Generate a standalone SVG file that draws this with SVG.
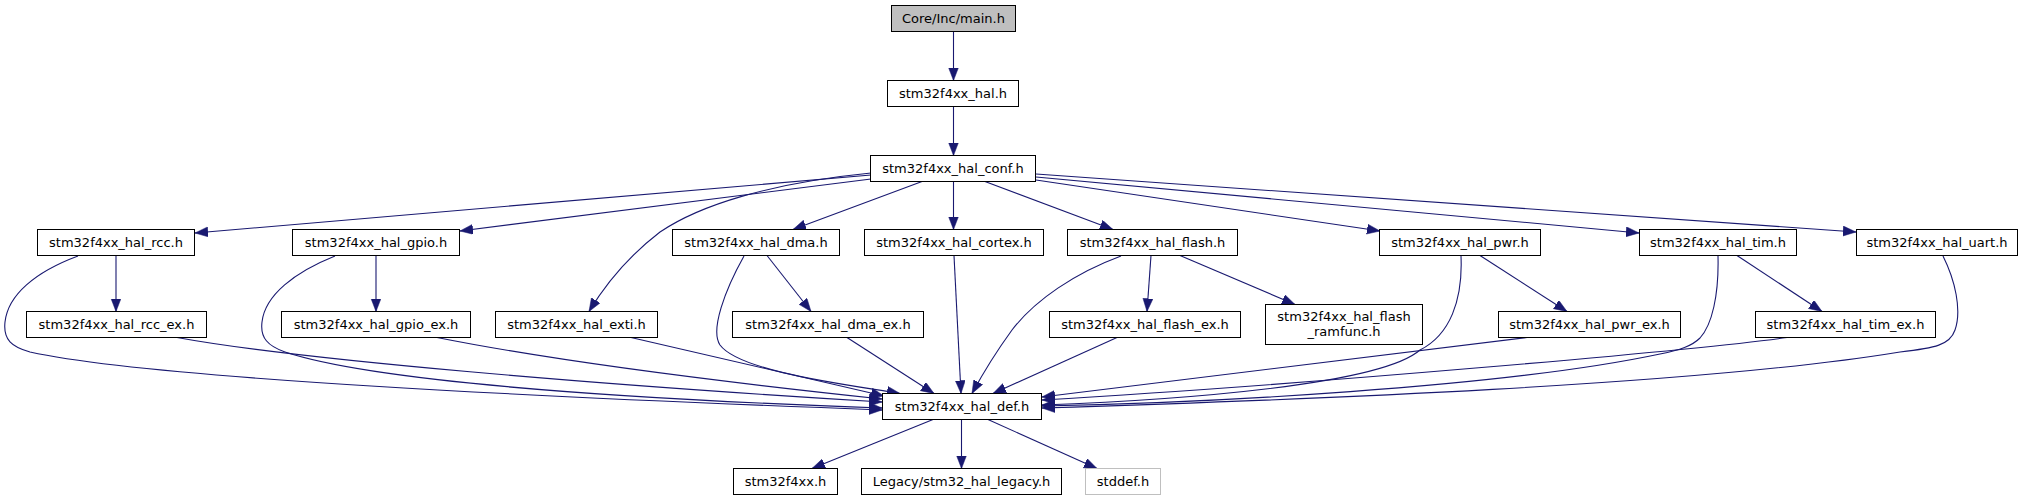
<svg xmlns="http://www.w3.org/2000/svg" width="2032" height="500" viewBox="0 0 2032 500">
<style>
.n rect{fill:#ffffff;stroke:#000000;stroke-width:1}
.n text{font-family:"DejaVu Sans",sans-serif;font-size:13px;text-anchor:middle;fill:#000000}
#n_main rect{fill:#bfbfbf}
#n_stddef rect{stroke:#bfbfbf}
.e path{fill:none;stroke:#191970;stroke-width:1.1;marker-end:url(#ah)}
</style>
<defs>
<marker id="ah" markerUnits="userSpaceOnUse" markerWidth="14" markerHeight="11" refX="13" refY="5" orient="auto" viewBox="0 0 14 11">
<path d="M0,0 L13,5 L0,10 Z" fill="#191970" stroke="#191970" stroke-width="0.5"/>
</marker>
</defs>
<rect width="2032" height="500" fill="#ffffff"/>
<g class="e" id="edges">
<path d="M953.5,31.5 L953.5,80.5"/>
<path d="M953.5,106.5 L953.5,155.5"/>
<path d="M871,175 L195,233"/>
<path d="M871,179 L460,231"/>
<path d="M871,173 C770,183 700,205 660,232 C630,255 605,285 589,311.5"/>
<path d="M922,181.5 L793,229.5"/>
<path d="M953.5,181.5 L953.5,229.5"/>
<path d="M985,181.5 L1113,229.5"/>
<path d="M1036,180 L1380,231"/>
<path d="M1036,177 L1639,233"/>
<path d="M1036,174 L1856,232"/>
<path d="M116,255.5 L116,311.5"/>
<path d="M376,255.5 L376,311.5"/>
<path d="M767,255.5 L811,311.5"/>
<path d="M1151,255.5 L1147,311.5"/>
<path d="M1180,255.5 L1295,304.5"/>
<path d="M1480,255.5 L1567,311.5"/>
<path d="M1737,255.5 L1822,311.5"/>
<path d="M78,256 C35,272 8,295 5,322 C3,340 12,347 30,352 C120,372 400,392 882,410"/>
<path d="M335,256 C295,272 265,295 262,322 C260,338 268,346 285,352 C370,380 600,398 882,408"/>
<path d="M177,337.5 C300,360 600,385 882,402"/>
<path d="M437,337.5 C560,362 750,385 882,399"/>
<path d="M631,337.5 L884,396"/>
<path d="M744,256 C725,290 710,330 720,345 C740,372 850,385 900,393.5"/>
<path d="M847,337.5 L934,393.5"/>
<path d="M954,255.5 L961,393.5"/>
<path d="M1121,256 C1075,273 1035,300 1012,330 C996,352 982,375 972,393.5"/>
<path d="M1117,337.5 L993,393.5"/>
<path d="M1527,337.5 L1042,397"/>
<path d="M1461,256 C1463,300 1450,335 1420,350 C1380,385 1180,400 1042,405"/>
<path d="M1718,256 C1719,295 1712,325 1700,338 C1692,346 1680,350 1660,354 C1500,388 1200,403 1042,406"/>
<path d="M1787,337.5 C1700,350 1300,385 1042,400"/>
<path d="M1943,256 C1955,280 1962,310 1955,330 C1950,345 1935,348 1900,352 C1700,385 1300,400 1042,408"/>
<path d="M933,419.5 L812,468.5"/>
<path d="M961.5,419.5 L961.5,468.5"/>
<path d="M988,419.5 L1097,468.5"/>
</g>
<g class="n" id="n_main"><rect x="891.5" y="5.5" width="124" height="26"/><text x="953.5" y="23">Core/Inc/main.h</text></g>
<g class="n" id="n_hal"><rect x="887.5" y="80.5" width="131" height="26"/><text x="953" y="98">stm32f4xx_hal.h</text></g>
<g class="n" id="n_conf"><rect x="870.5" y="155.5" width="165" height="26"/><text x="953" y="173">stm32f4xx_hal_conf.h</text></g>
<g class="n" id="n_rcc"><rect x="37.5" y="229.5" width="157" height="26"/><text x="116" y="247">stm32f4xx_hal_rcc.h</text></g>
<g class="n" id="n_gpio"><rect x="292.5" y="229.5" width="167" height="26"/><text x="376" y="247">stm32f4xx_hal_gpio.h</text></g>
<g class="n" id="n_dma"><rect x="672.5" y="229.5" width="167" height="26"/><text x="756" y="247">stm32f4xx_hal_dma.h</text></g>
<g class="n" id="n_cortex"><rect x="864.5" y="229.5" width="179" height="26"/><text x="954" y="247">stm32f4xx_hal_cortex.h</text></g>
<g class="n" id="n_flash"><rect x="1067.5" y="229.5" width="170" height="26"/><text x="1152.5" y="247">stm32f4xx_hal_flash.h</text></g>
<g class="n" id="n_pwr"><rect x="1379.5" y="229.5" width="161" height="26"/><text x="1460" y="247">stm32f4xx_hal_pwr.h</text></g>
<g class="n" id="n_tim"><rect x="1639.5" y="229.5" width="157" height="26"/><text x="1718" y="247">stm32f4xx_hal_tim.h</text></g>
<g class="n" id="n_uart"><rect x="1856.5" y="229.5" width="161" height="26"/><text x="1937" y="247">stm32f4xx_hal_uart.h</text></g>
<g class="n" id="n_rcc_ex"><rect x="26.5" y="311.5" width="180" height="26"/><text x="116.5" y="329">stm32f4xx_hal_rcc_ex.h</text></g>
<g class="n" id="n_gpio_ex"><rect x="281.5" y="311.5" width="189" height="26"/><text x="376" y="329">stm32f4xx_hal_gpio_ex.h</text></g>
<g class="n" id="n_exti"><rect x="495.5" y="311.5" width="162" height="26"/><text x="576.5" y="329">stm32f4xx_hal_exti.h</text></g>
<g class="n" id="n_dma_ex"><rect x="732.5" y="311.5" width="191" height="26"/><text x="828" y="329">stm32f4xx_hal_dma_ex.h</text></g>
<g class="n" id="n_flash_ex"><rect x="1049.5" y="311.5" width="191" height="26"/><text x="1145" y="329">stm32f4xx_hal_flash_ex.h</text></g>
<g class="n" id="n_ramfunc"><rect x="1265.5" y="304.5" width="157" height="40"/><text x="1344" y="321">stm32f4xx_hal_flash</text><text x="1344" y="336">_ramfunc.h</text></g>
<g class="n" id="n_pwr_ex"><rect x="1498.5" y="311.5" width="182" height="26"/><text x="1589.5" y="329">stm32f4xx_hal_pwr_ex.h</text></g>
<g class="n" id="n_tim_ex"><rect x="1755.5" y="311.5" width="180" height="26"/><text x="1845.5" y="329">stm32f4xx_hal_tim_ex.h</text></g>
<g class="n" id="n_def"><rect x="882.5" y="393.5" width="159" height="26"/><text x="962" y="411">stm32f4xx_hal_def.h</text></g>
<g class="n" id="n_stm32f4xx"><rect x="733.5" y="468.5" width="104" height="26"/><text x="785.5" y="486">stm32f4xx.h</text></g>
<g class="n" id="n_legacy"><rect x="861.5" y="468.5" width="200" height="26"/><text x="961.5" y="486">Legacy/stm32_hal_legacy.h</text></g>
<g class="n" id="n_stddef"><rect x="1085.5" y="468.5" width="75" height="26"/><text x="1123" y="486">stddef.h</text></g>
</svg>
